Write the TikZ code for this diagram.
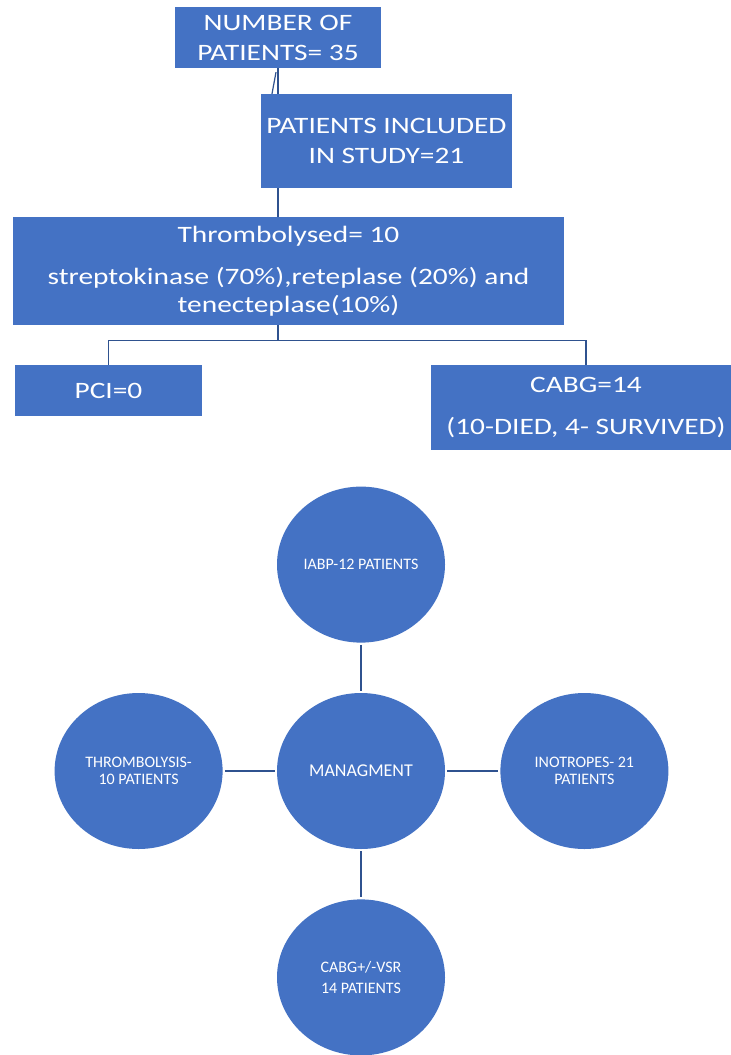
\documentclass[tikz,border=0pt]{standalone}
\usepackage{fontspec}
\setmainfont{Carlito}
\newfontfamily\boxfont[FakeStretch=1.25]{Carlito}
\usetikzlibrary{shapes.geometric, positioning}

\definecolor{boxblue}{RGB}{68,114,196}
\definecolor{lineblue}{RGB}{47,82,143}

\begin{document}
\begin{tikzpicture}[x=1pt,y=-1pt,
    box/.style={rectangle,fill=boxblue,text=white,align=center,inner sep=0pt,
        font=\boxfont\fontsize{23.5}{30}\selectfont},
    blob/.style={ellipse,fill=boxblue,text=white,align=center,inner sep=0pt,
        minimum width=168pt,minimum height=156pt,font=\fontsize{16}{17}\selectfont},
    link/.style={draw=lineblue,line width=1.2pt},
    spoke/.style={draw=lineblue,line width=1.8pt,shorten <=2pt,shorten >=2pt}]
    \clip (0,0) rectangle (731,1055);
    \fill[white] (0,0) rectangle (731,1055);

    % flow of patients
    \node[box,minimum width=206pt,minimum height=61pt] (num) at (278,37.5) {NUMBER OF\\PATIENTS= 35};
    \node[box,minimum width=251pt,minimum height=94pt] (incl) at (386.5,141) {PATIENTS INCLUDED\\IN STUDY=21};
    \node[box,minimum width=551pt,minimum height=108pt,font=\boxfont\fontsize{23.5}{28}\selectfont] (throm) at (288.5,271)
        {Thrombolysed= 10\\[14pt]streptokinase (70\%),reteplase (20\%) and\\tenecteplase(10\%)};
    \node[box,minimum width=187pt,minimum height=51pt] (pci) at (108.5,390.5) {PCI=0};
    \node[box,minimum width=310pt,minimum height=85pt] (cabg) at (586,407.5) {CABG=14\\[12pt](10-DIED, 4- SURVIVED)};

    \draw[link] (num.south) -- (num.south |- incl.north);
    \draw[link] ([xshift=-6pt]num.south |- incl.north) -- ([xshift=-2pt,yshift=-4pt]num.south);
    \draw[link] (num.south |- incl.south) -- (num.south |- throm.north);
    \draw[link] (num.south |- throm.south) -- ++(0,15) coordinate (fork) -| (pci.north);
    \draw[link] (fork) -| (cabg.north);

    % management
    \node[blob,font=\fontsize{18}{20}\selectfont] (manag) at (361,771) {MANAGMENT};
    \node[blob,above=50pt of manag] (iabp) {IABP-12 PATIENTS};
    \node[blob,left=54pt of manag] (thrlys) {THROMBOLYSIS-\\10 PATIENTS};
    \node[blob,right=55pt of manag] (inotr) {INOTROPES- 21\\PATIENTS};
    \node[blob,below=50pt of manag] (surg) {CABG+/-VSR\\[4pt]14 PATIENTS};

    \draw[spoke] (iabp.south) -- (manag.north);
    \draw[spoke] (thrlys.east) -- (manag.west);
    \draw[spoke] (manag.east) -- (inotr.west);
    \draw[spoke] (manag.south) -- (surg.north);
\end{tikzpicture}
\end{document}
